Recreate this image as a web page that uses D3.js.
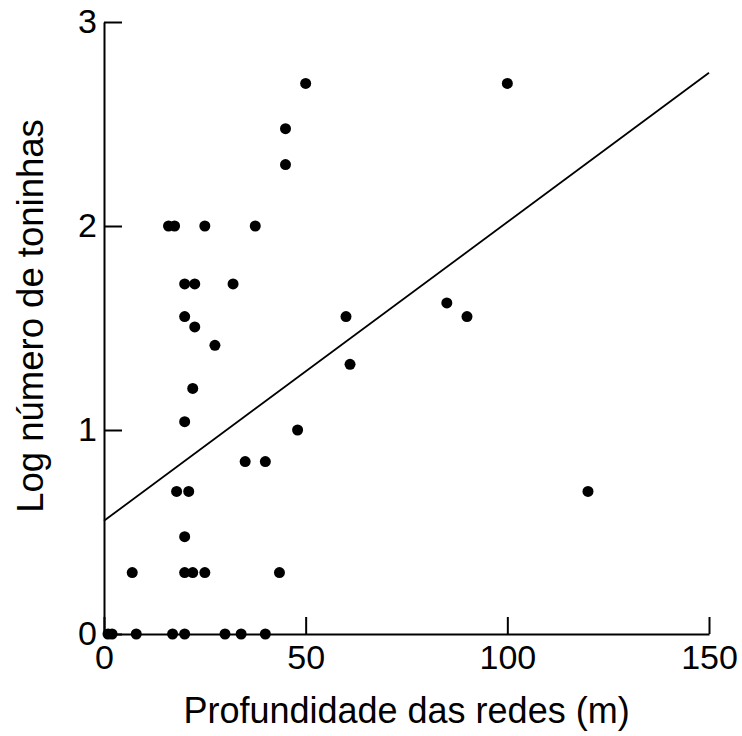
<!DOCTYPE html>
<html>
<head>
<meta charset="utf-8">
<script src="https://cdn.jsdelivr.net/npm/d3@7"></script>
<style>
  html, body { margin: 0; padding: 0; background: #fff; }
  svg { display: block; }
  text { font-family: "Liberation Sans", Arial, sans-serif; fill: #000; }
</style>
</head>
<body>
<svg id="chart" width="742" height="736"></svg>
<script>
// Net depth (m) and log number of porpoises per net set
const depth = [
  1, 2, 8, 17, 20, 30, 34, 40,
  7, 20, 22, 25, 43.5,
  20,
  18, 21,
  35, 40,
  20,
  22,
  27.5,
  22.5,
  20,
  20, 22.5, 32,
  16, 17.5, 25, 37.5,
  45, 45, 50,
  48, 60, 61, 85, 90, 100, 120
];
const logCount = [
  0, 0, 0, 0, 0, 0, 0, 0,
  0.301, 0.301, 0.301, 0.301, 0.301,
  0.477,
  0.699, 0.699,
  0.845, 0.845,
  1.041,
  1.204,
  1.415,
  1.505,
  1.556,
  1.716, 1.716, 1.716,
  2.0, 2.0, 2.0, 2.0,
  2.301, 2.477, 2.699,
  1.0, 1.556, 1.322, 1.623, 1.556, 2.699, 0.699
];

// Fitted regression line: log count = intercept + slope * depth
const fitIntercept = 0.555;
const fitSlope = 0.01464;

const xTicks = [0, 50, 100, 150];
const yTicks = [0, 1, 2, 3];
const xTitle = "Profundidade das redes (m)";
const yTitle = "Log número de toninhas";

const svg = d3.select("#chart");
const plotLeft = 104, plotRight = 709, plotTop = 22, plotBottom = 634;

const x = d3.scaleLinear().domain([0, 150]).range([plotLeft, plotRight]);
const y = d3.scaleLinear().domain([0, 3]).range([plotBottom, plotTop]);

// Axes with inward ticks
const xAxis = svg.append("g")
  .attr("transform", `translate(0,${plotBottom})`)
  .call(d3.axisBottom(x).tickValues(xTicks).tickSizeInner(-17).tickSizeOuter(0).tickPadding(11).tickFormat(d3.format("d")));
const yAxis = svg.append("g")
  .attr("transform", `translate(${plotLeft},0)`)
  .call(d3.axisLeft(y).tickValues(yTicks).tickSizeInner(-18).tickSizeOuter(0).tickPadding(7).tickFormat(d3.format("d")));

[xAxis, yAxis].forEach(g => {
  g.select(".domain").attr("stroke", "#000").attr("stroke-width", 2);
  g.selectAll(".tick line").attr("stroke", "#000").attr("stroke-width", 2);
  g.selectAll(".tick text")
    .attr("font-family", "'Liberation Sans', Arial, sans-serif")
    .attr("font-size", 34)
    .attr("fill", "#000");
});
xAxis.selectAll(".tick text").attr("dy", "0.71em");

// Regression line across the full depth range
const xDom = x.domain();
svg.append("line")
  .attr("x1", x(xDom[0])).attr("y1", y(fitIntercept + fitSlope * xDom[0]))
  .attr("x2", x(xDom[1])).attr("y2", y(fitIntercept + fitSlope * xDom[1]))
  .attr("stroke", "#000").attr("stroke-width", 1.8);

// Observations
svg.append("g").selectAll("circle")
  .data(depth.map((d, i) => [d, logCount[i]]))
  .join("circle")
  .attr("cx", d => x(d[0]))
  .attr("cy", d => y(d[1]))
  .attr("r", 5.5)
  .attr("fill", "#000");

// Axis titles
svg.append("text")
  .attr("x", (plotLeft + plotRight) / 2)
  .attr("y", 723)
  .attr("text-anchor", "middle")
  .attr("font-size", 36)
  .text(xTitle);

svg.append("text")
  .attr("transform", "translate(43,316) rotate(-90)")
  .attr("text-anchor", "middle")
  .attr("font-size", 36.5)
  .text(yTitle);
</script>
</body>
</html>
